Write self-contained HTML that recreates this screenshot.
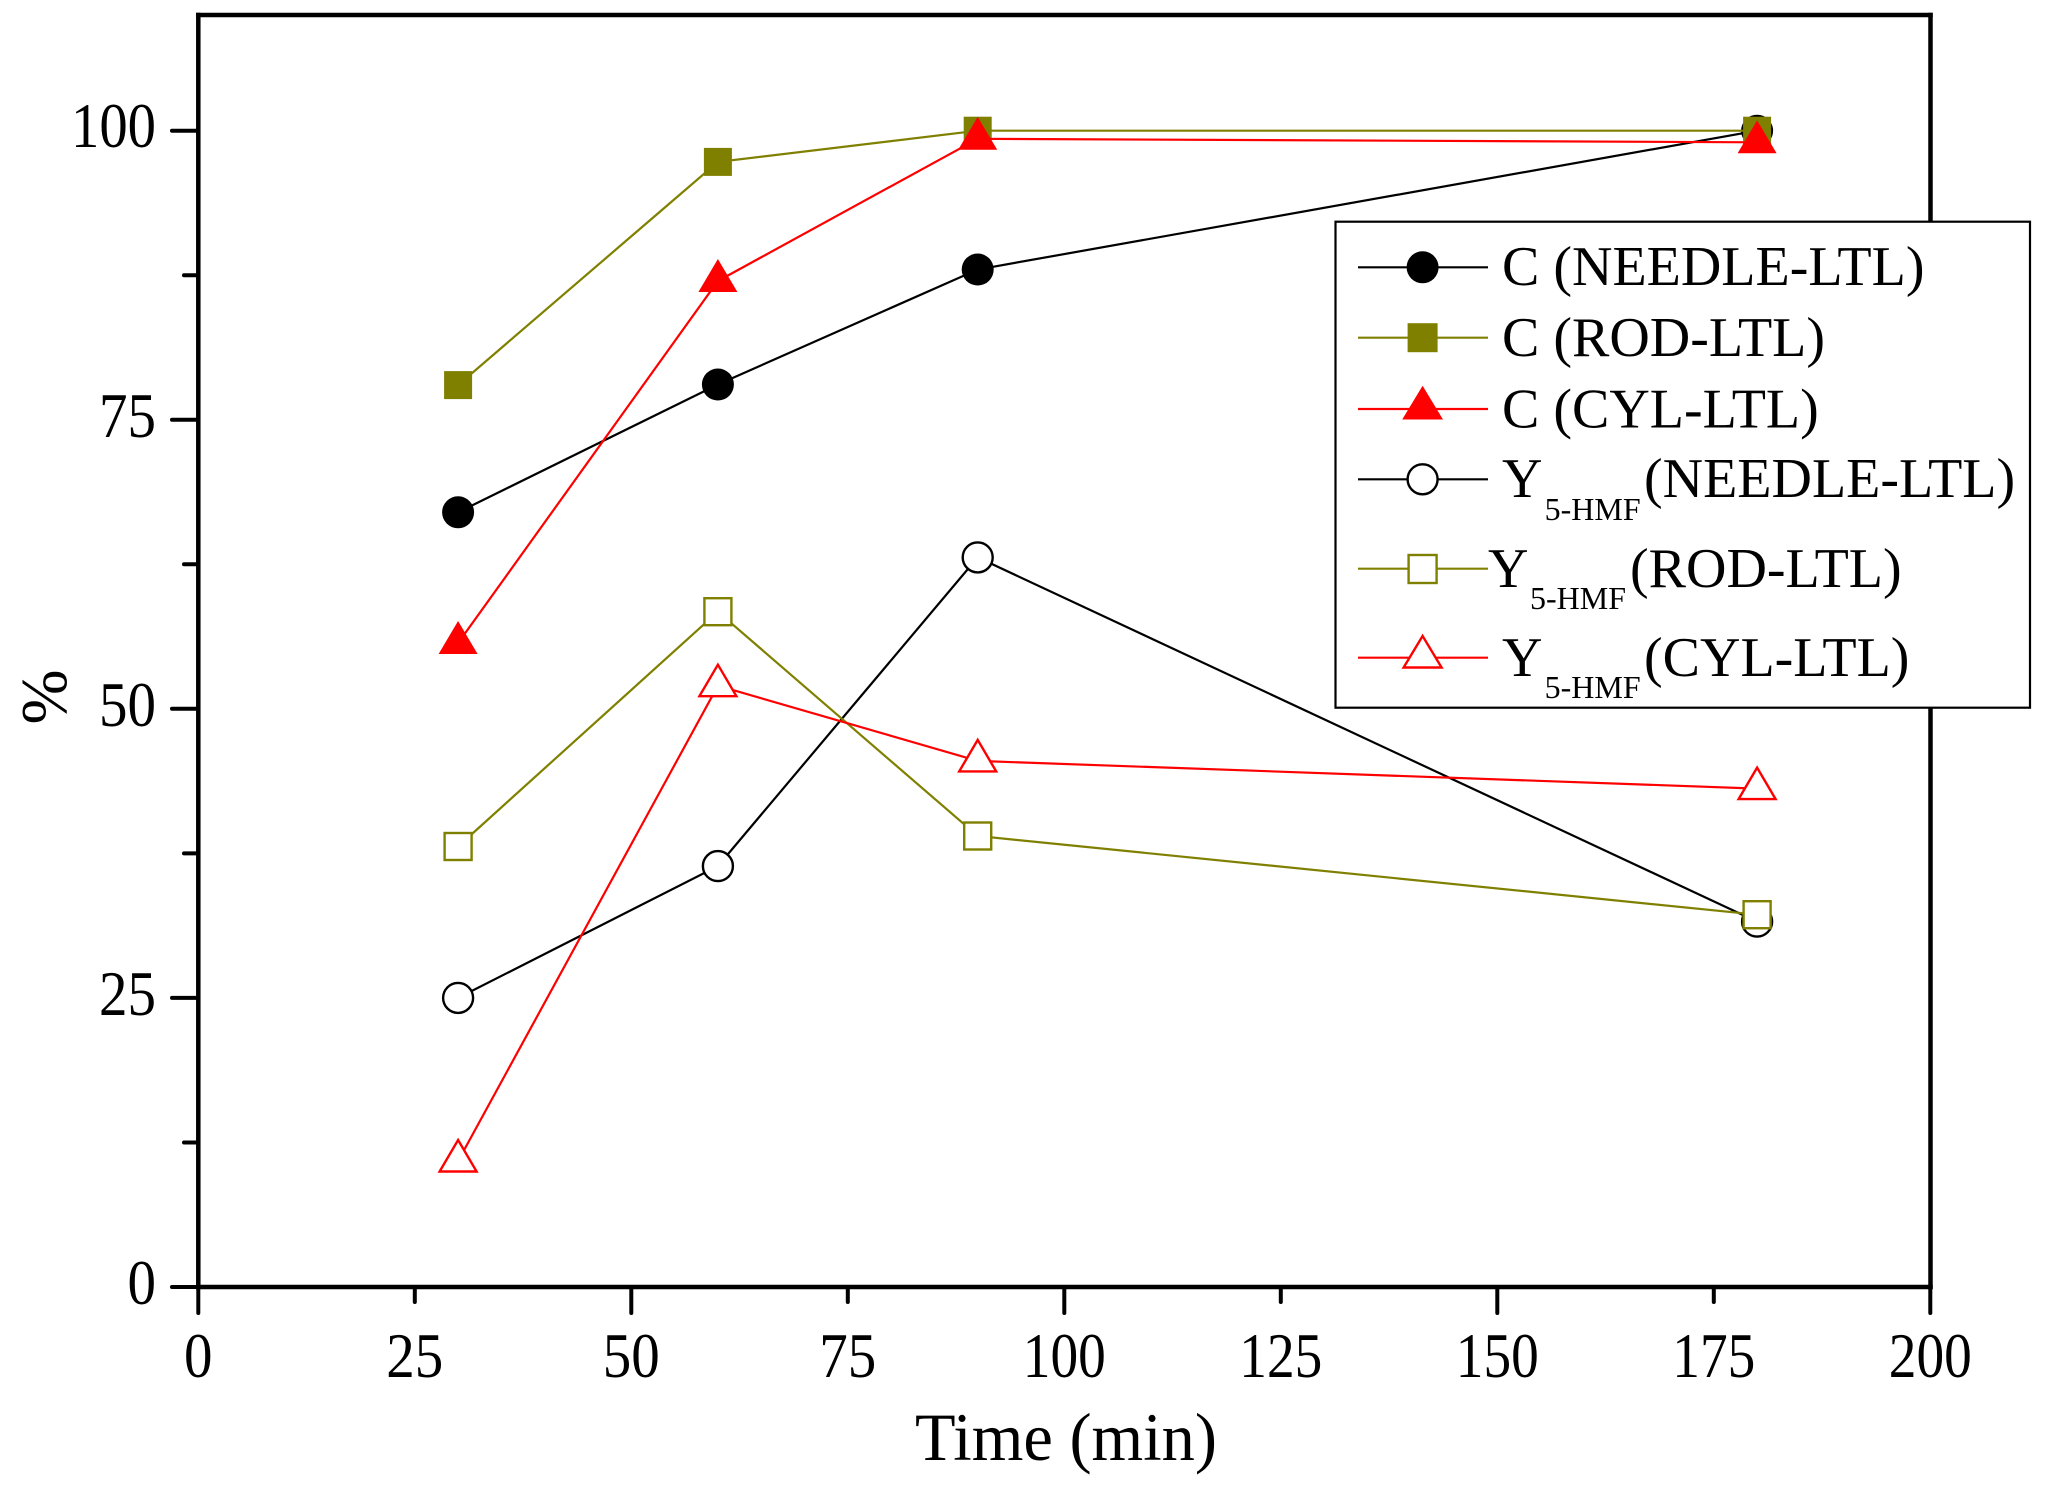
<!DOCTYPE html>
<html>
<head>
<meta charset="utf-8">
<style>
html,body{margin:0;padding:0;background:#fff;}
svg{display:block;}
text{font-family:"Liberation Serif","Times New Roman",serif;fill:#000;}
</style>
</head>
<body>
<svg width="2049" height="1488" viewBox="0 0 2049 1488" xmlns="http://www.w3.org/2000/svg">
<rect x="0" y="0" width="2049" height="1488" fill="#fff"/>

<!-- Axes frame -->
<g stroke="#000" stroke-width="4.5" fill="none" stroke-linecap="square">
  <line x1="198.3" y1="15" x2="1930.5" y2="15"/>
  <line x1="1930.5" y1="15" x2="1930.5" y2="1287"/>
  <line x1="198.3" y1="15" x2="198.3" y2="1287"/>
  <line x1="198.3" y1="1287" x2="1930.5" y2="1287"/>
</g>

<!-- Y ticks -->
<g stroke="#000" stroke-width="4" stroke-linecap="round">
  <line x1="172" y1="1287" x2="198" y2="1287"/>
  <line x1="172" y1="997.9" x2="198" y2="997.9"/>
  <line x1="172" y1="708.8" x2="198" y2="708.8"/>
  <line x1="172" y1="419.8" x2="198" y2="419.8"/>
  <line x1="172" y1="130.7" x2="198" y2="130.7"/>
  <line x1="184" y1="1142.5" x2="198" y2="1142.5"/>
  <line x1="184" y1="853.4" x2="198" y2="853.4"/>
  <line x1="184" y1="564.3" x2="198" y2="564.3"/>
  <line x1="184" y1="275.2" x2="198" y2="275.2"/>
</g>

<!-- X ticks -->
<g stroke="#000" stroke-width="4" stroke-linecap="round">
  <line x1="198.3" y1="1287" x2="198.3" y2="1313"/>
  <line x1="631.3" y1="1287" x2="631.3" y2="1313"/>
  <line x1="1064.3" y1="1287" x2="1064.3" y2="1313"/>
  <line x1="1497.3" y1="1287" x2="1497.3" y2="1313"/>
  <line x1="1930.3" y1="1287" x2="1930.3" y2="1313"/>
  <line x1="414.8" y1="1287" x2="414.8" y2="1302"/>
  <line x1="847.8" y1="1287" x2="847.8" y2="1302"/>
  <line x1="1280.8" y1="1287" x2="1280.8" y2="1302"/>
  <line x1="1713.8" y1="1287" x2="1713.8" y2="1302"/>
</g>

<!-- Y tick labels -->
<g font-size="64" text-anchor="end">
  <text x="156" y="1304" textLength="28.5" lengthAdjust="spacingAndGlyphs">0</text>
  <text x="156" y="1015" textLength="57" lengthAdjust="spacingAndGlyphs">25</text>
  <text x="156" y="726" textLength="57" lengthAdjust="spacingAndGlyphs">50</text>
  <text x="156" y="437" textLength="57" lengthAdjust="spacingAndGlyphs">75</text>
  <text x="156" y="147" textLength="85" lengthAdjust="spacingAndGlyphs">100</text>
</g>

<!-- X tick labels -->
<g font-size="64" text-anchor="middle">
  <text x="198.3" y="1377" textLength="28.5" lengthAdjust="spacingAndGlyphs">0</text>
  <text x="414.8" y="1377" textLength="57" lengthAdjust="spacingAndGlyphs">25</text>
  <text x="631.3" y="1377" textLength="57" lengthAdjust="spacingAndGlyphs">50</text>
  <text x="847.8" y="1377" textLength="57" lengthAdjust="spacingAndGlyphs">75</text>
  <text x="1064.3" y="1377" textLength="83" lengthAdjust="spacingAndGlyphs">100</text>
  <text x="1280.8" y="1377" textLength="83" lengthAdjust="spacingAndGlyphs">125</text>
  <text x="1497.3" y="1377" textLength="83" lengthAdjust="spacingAndGlyphs">150</text>
  <text x="1713.8" y="1377" textLength="83" lengthAdjust="spacingAndGlyphs">175</text>
  <text x="1930.3" y="1377" textLength="83" lengthAdjust="spacingAndGlyphs">200</text>
</g>

<!-- Axis titles -->
<text x="915" y="1460" font-size="68" textLength="302" lengthAdjust="spacingAndGlyphs">Time (min)</text>
<text transform="translate(66,697) rotate(-90)" font-size="66" text-anchor="middle">%</text>

<!-- Series: C (NEEDLE-LTL) -->
<polyline fill="none" stroke="#000" stroke-width="2.2" points="458.1,512.3 717.9,384.5 977.7,269.5 1757.1,130.7"/>
<g fill="#000">
  <circle cx="458.1" cy="512.3" r="16"/>
  <circle cx="717.9" cy="384.5" r="16"/>
  <circle cx="977.7" cy="269.5" r="16"/>
  <circle cx="1757.1" cy="130.7" r="16"/>
</g>

<!-- Series: C (ROD-LTL) -->
<polyline fill="none" stroke="#808000" stroke-width="2.2" points="458.1,385.1 717.9,161.9 977.7,130.7 1757.1,130.7"/>
<g fill="#808000">
  <rect x="444.1" y="371.1" width="28" height="28"/>
  <rect x="703.9" y="147.9" width="28" height="28"/>
  <rect x="963.7" y="116.7" width="28" height="28"/>
  <rect x="1743.1" y="116.7" width="28" height="28"/>
</g>

<!-- Series: C (CYL-LTL) -->
<polyline fill="none" stroke="#f00" stroke-width="2.2" points="458.1,643 717.9,281 977.7,138.8 1757.1,142.3"/>
<g fill="#f00">
  <polygon points="458.1,621 477.6,654 438.6,654"/>
  <polygon points="717.9,259 737.4,292 698.4,292"/>
  <polygon points="977.7,116.8 997.2,149.8 958.2,149.8"/>
  <polygon points="1757.1,120.3 1776.6,153.3 1737.6,153.3"/>
</g>

<!-- Series: Y5-HMF (NEEDLE-LTL) -->
<polyline fill="none" stroke="#000" stroke-width="2.2" points="458.1,997.9 717.9,866.1 977.7,557.4 1757.1,921.6"/>
<g fill="#fff" stroke="#000" stroke-width="2.4">
  <circle cx="458.1" cy="997.9" r="15"/>
  <circle cx="717.9" cy="866.1" r="15"/>
  <circle cx="977.7" cy="557.4" r="15"/>
  <circle cx="1757.1" cy="921.6" r="15"/>
</g>

<!-- Series: Y5-HMF (ROD-LTL) -->
<polyline fill="none" stroke="#808000" stroke-width="2.2" points="458.1,846.5 717.9,611.7 977.7,836 1757.1,914.7"/>
<g fill="#fff" stroke="#808000" stroke-width="2.4">
  <rect x="444.6" y="833" width="27" height="27"/>
  <rect x="704.4" y="598.2" width="27" height="27"/>
  <rect x="964.2" y="822.5" width="27" height="27"/>
  <rect x="1743.6" y="901.2" width="27" height="27"/>
</g>

<!-- Series: Y5-HMF (CYL-LTL) -->
<polyline fill="none" stroke="#f00" stroke-width="2.2" points="458.1,1161 717.9,685.7 977.7,760.9 1757.1,788.6"/>
<g fill="#fff" stroke="#f00" stroke-width="2.4">
  <polygon points="458.1,1140 476.6,1171.5 439.6,1171.5"/>
  <polygon points="717.9,664.7 736.4,696.2 699.4,696.2"/>
  <polygon points="977.7,739.9 996.2,771.4 959.2,771.4"/>
  <polygon points="1757.1,767.6 1775.6,799.1 1738.6,799.1"/>
</g>

<!-- Legend -->
<rect x="1335.5" y="221.7" width="694.5" height="486" fill="#fff" stroke="#000" stroke-width="2.2"/>
<g stroke-width="2.2">
  <line x1="1358" y1="267.3" x2="1488" y2="267.3" stroke="#000"/>
  <line x1="1358" y1="337.7" x2="1488" y2="337.7" stroke="#808000"/>
  <line x1="1358" y1="409" x2="1488" y2="409" stroke="#f00"/>
  <line x1="1358" y1="479.3" x2="1488" y2="479.3" stroke="#000"/>
  <line x1="1358" y1="568.7" x2="1488" y2="568.7" stroke="#808000"/>
  <line x1="1358" y1="657.7" x2="1488" y2="657.7" stroke="#f00"/>
</g>
<circle cx="1422.6" cy="267.3" r="16" fill="#000"/>
<rect x="1407.6" y="323.2" width="30" height="29" fill="#808000"/>
<polygon points="1422.6,385.7 1443,419.5 1402.2,419.5" fill="#f00"/>
<circle cx="1422.6" cy="479.3" r="15" fill="#fff" stroke="#000" stroke-width="2.4"/>
<rect x="1408.6" y="555" width="28" height="28" fill="#fff" stroke="#808000" stroke-width="2.4"/>
<polygon points="1422.6,636 1441.6,667.5 1403.6,667.5" fill="#fff" stroke="#f00" stroke-width="2.4"/>

<g font-size="56">
  <text x="1502" y="285">C (NEEDLE-LTL)</text>
  <text x="1502" y="356">C (ROD-LTL)</text>
  <text x="1502" y="427.5">C (CYL-LTL)</text>
  <text x="1502" y="497">Y</text>
  <text x="1544.6" y="520" font-size="32">5-HMF</text>
  <text x="1644" y="497">(NEEDLE-LTL)</text>
  <text x="1488" y="587">Y</text>
  <text x="1530" y="609" font-size="32">5-HMF</text>
  <text x="1630" y="587">(ROD-LTL)</text>
  <text x="1502" y="676">Y</text>
  <text x="1544.6" y="698" font-size="32">5-HMF</text>
  <text x="1644" y="676">(CYL-LTL)</text>
</g>
</svg>
</body>
</html>
